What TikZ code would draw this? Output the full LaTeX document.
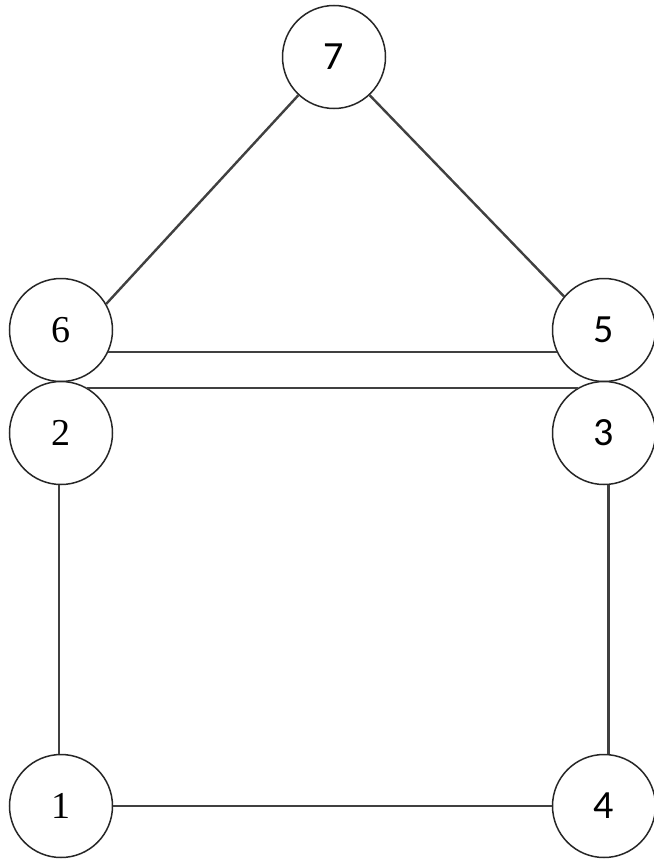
\documentclass[tikz,border=0pt]{standalone}
\usepackage{fontspec}
\newfontfamily\calfont{Carlito}
\newfontfamily\serfont{Liberation Serif}
\begin{document}
\begin{tikzpicture}[x=1pt,y=-1pt,
  vtx/.style={circle,draw=black!85,line width=1.5pt,minimum size=103pt,inner sep=0pt,fill=white},
  sansnum/.style={font=\calfont\fontsize{40}{44}\selectfont},
  sernum/.style={font=\serfont\fontsize{38}{42}\selectfont},
  edge/.style={draw=black!75,line width=2.4pt}]
\useasboundingbox (0,0) rectangle (653,859);
\node[vtx,sansnum] (n7) at (334,57) {7};
\node[vtx,sernum] (n6) at (61,330) {6};
\node[vtx,sansnum] (n5) at (604,330) {5};
\node[vtx,sernum] (n2) at (61,433) {2};
\node[vtx,sansnum] (n3) at (604,433) {3};
\node[vtx,sernum] (n1) at (61,806) {1};
\node[vtx,sansnum] (n4) at (604,806) {4};
\draw[edge] (n7.227) -- (n6.30);
\draw[edge] (n7.313) -- (n5.140);
\draw[edge] (n6.-25) -- (n5.205);
\draw[edge] (n2.60) -- (n3.120);
\draw[edge] (n2.268) -- (n1.92);
\draw[edge] (n3.275) -- (n4.85);
\draw[edge] (n1) -- (n4);
\end{tikzpicture}
\end{document}
